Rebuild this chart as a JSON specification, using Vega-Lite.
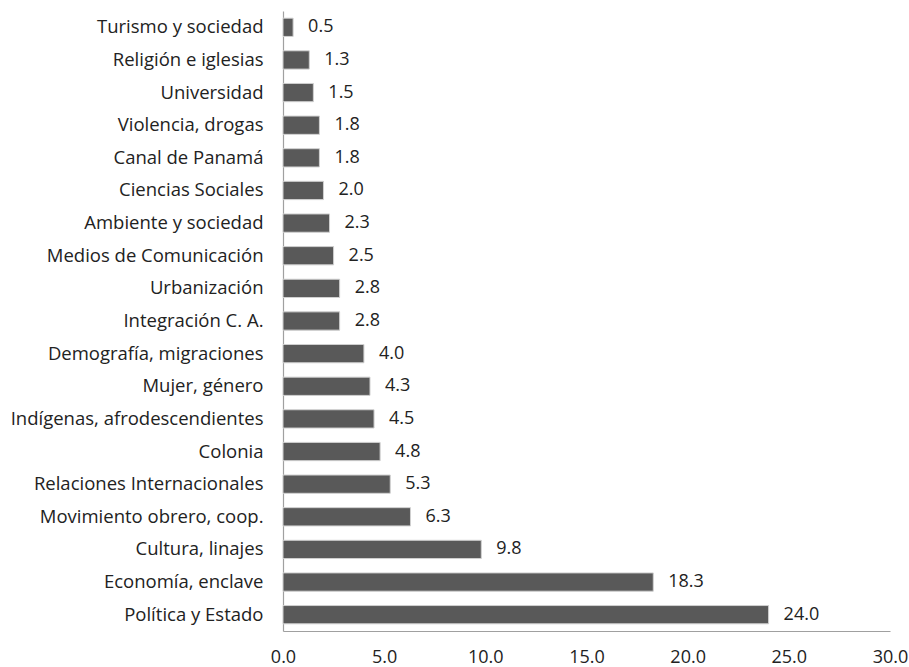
{
  "$schema": "https://vega.github.io/schema/vega-lite/v6.json",
  "width": 607,
  "height": 620,
  "autosize": {"type": "none"},
  "padding": {"left": 283, "top": 11, "right": 19, "bottom": 36},
  "background": "white",
  "config": {"view": {"stroke": null}, "font": "Open Sans"},
  "data": {"values": [
    {"tema": "Turismo y sociedad", "valor": 0.5},
    {"tema": "Religión e iglesias", "valor": 1.3},
    {"tema": "Universidad", "valor": 1.5},
    {"tema": "Violencia, drogas", "valor": 1.8},
    {"tema": "Canal de Panamá", "valor": 1.8},
    {"tema": "Ciencias Sociales", "valor": 2.0},
    {"tema": "Ambiente y sociedad", "valor": 2.3},
    {"tema": "Medios de Comunicación", "valor": 2.5},
    {"tema": "Urbanización", "valor": 2.8},
    {"tema": "Integración C. A.", "valor": 2.8},
    {"tema": "Demografía, migraciones", "valor": 4.0},
    {"tema": "Mujer, género", "valor": 4.3},
    {"tema": "Indígenas, afrodescendientes", "valor": 4.5},
    {"tema": "Colonia", "valor": 4.8},
    {"tema": "Relaciones Internacionales", "valor": 5.3},
    {"tema": "Movimiento obrero, coop.", "valor": 6.3},
    {"tema": "Cultura, linajes", "valor": 9.8},
    {"tema": "Economía, enclave", "valor": 18.3},
    {"tema": "Política y Estado", "valor": 24.0}
  ]},
  "encoding": {
    "y": {"field": "tema", "type": "nominal", "sort": null, "title": null,
      "scale": {"paddingInner": 0.44, "paddingOuter": 0.22},
      "axis": {"ticks": false, "domainColor": "#a0a0a0", "domainWidth": 1.2, "labelFontSize": 18.5, "labelColor": "#222", "labelPadding": 20, "labelLimit": 300}},
    "x": {"field": "valor", "type": "quantitative", "title": null,
      "scale": {"domain": [0, 30]},
      "axis": {"values": [0, 5, 10, 15, 20, 25, 30], "format": ".1f", "ticks": false, "grid": false, "domainColor": "#a0a0a0", "domainWidth": 1.2, "labelFontSize": 18, "labelColor": "#222", "labelPadding": 17, "labelFlush": false}}
  },
  "layer": [
    {"mark": {"type": "bar", "color": "#595959", "stroke": "#d0d0d0", "strokeWidth": 1}},
    {"mark": {"type": "text", "align": "left", "dx": 15, "fontSize": 18, "color": "#222"},
     "encoding": {"text": {"field": "valor", "type": "quantitative", "format": ".1f"}}}
  ]
}
